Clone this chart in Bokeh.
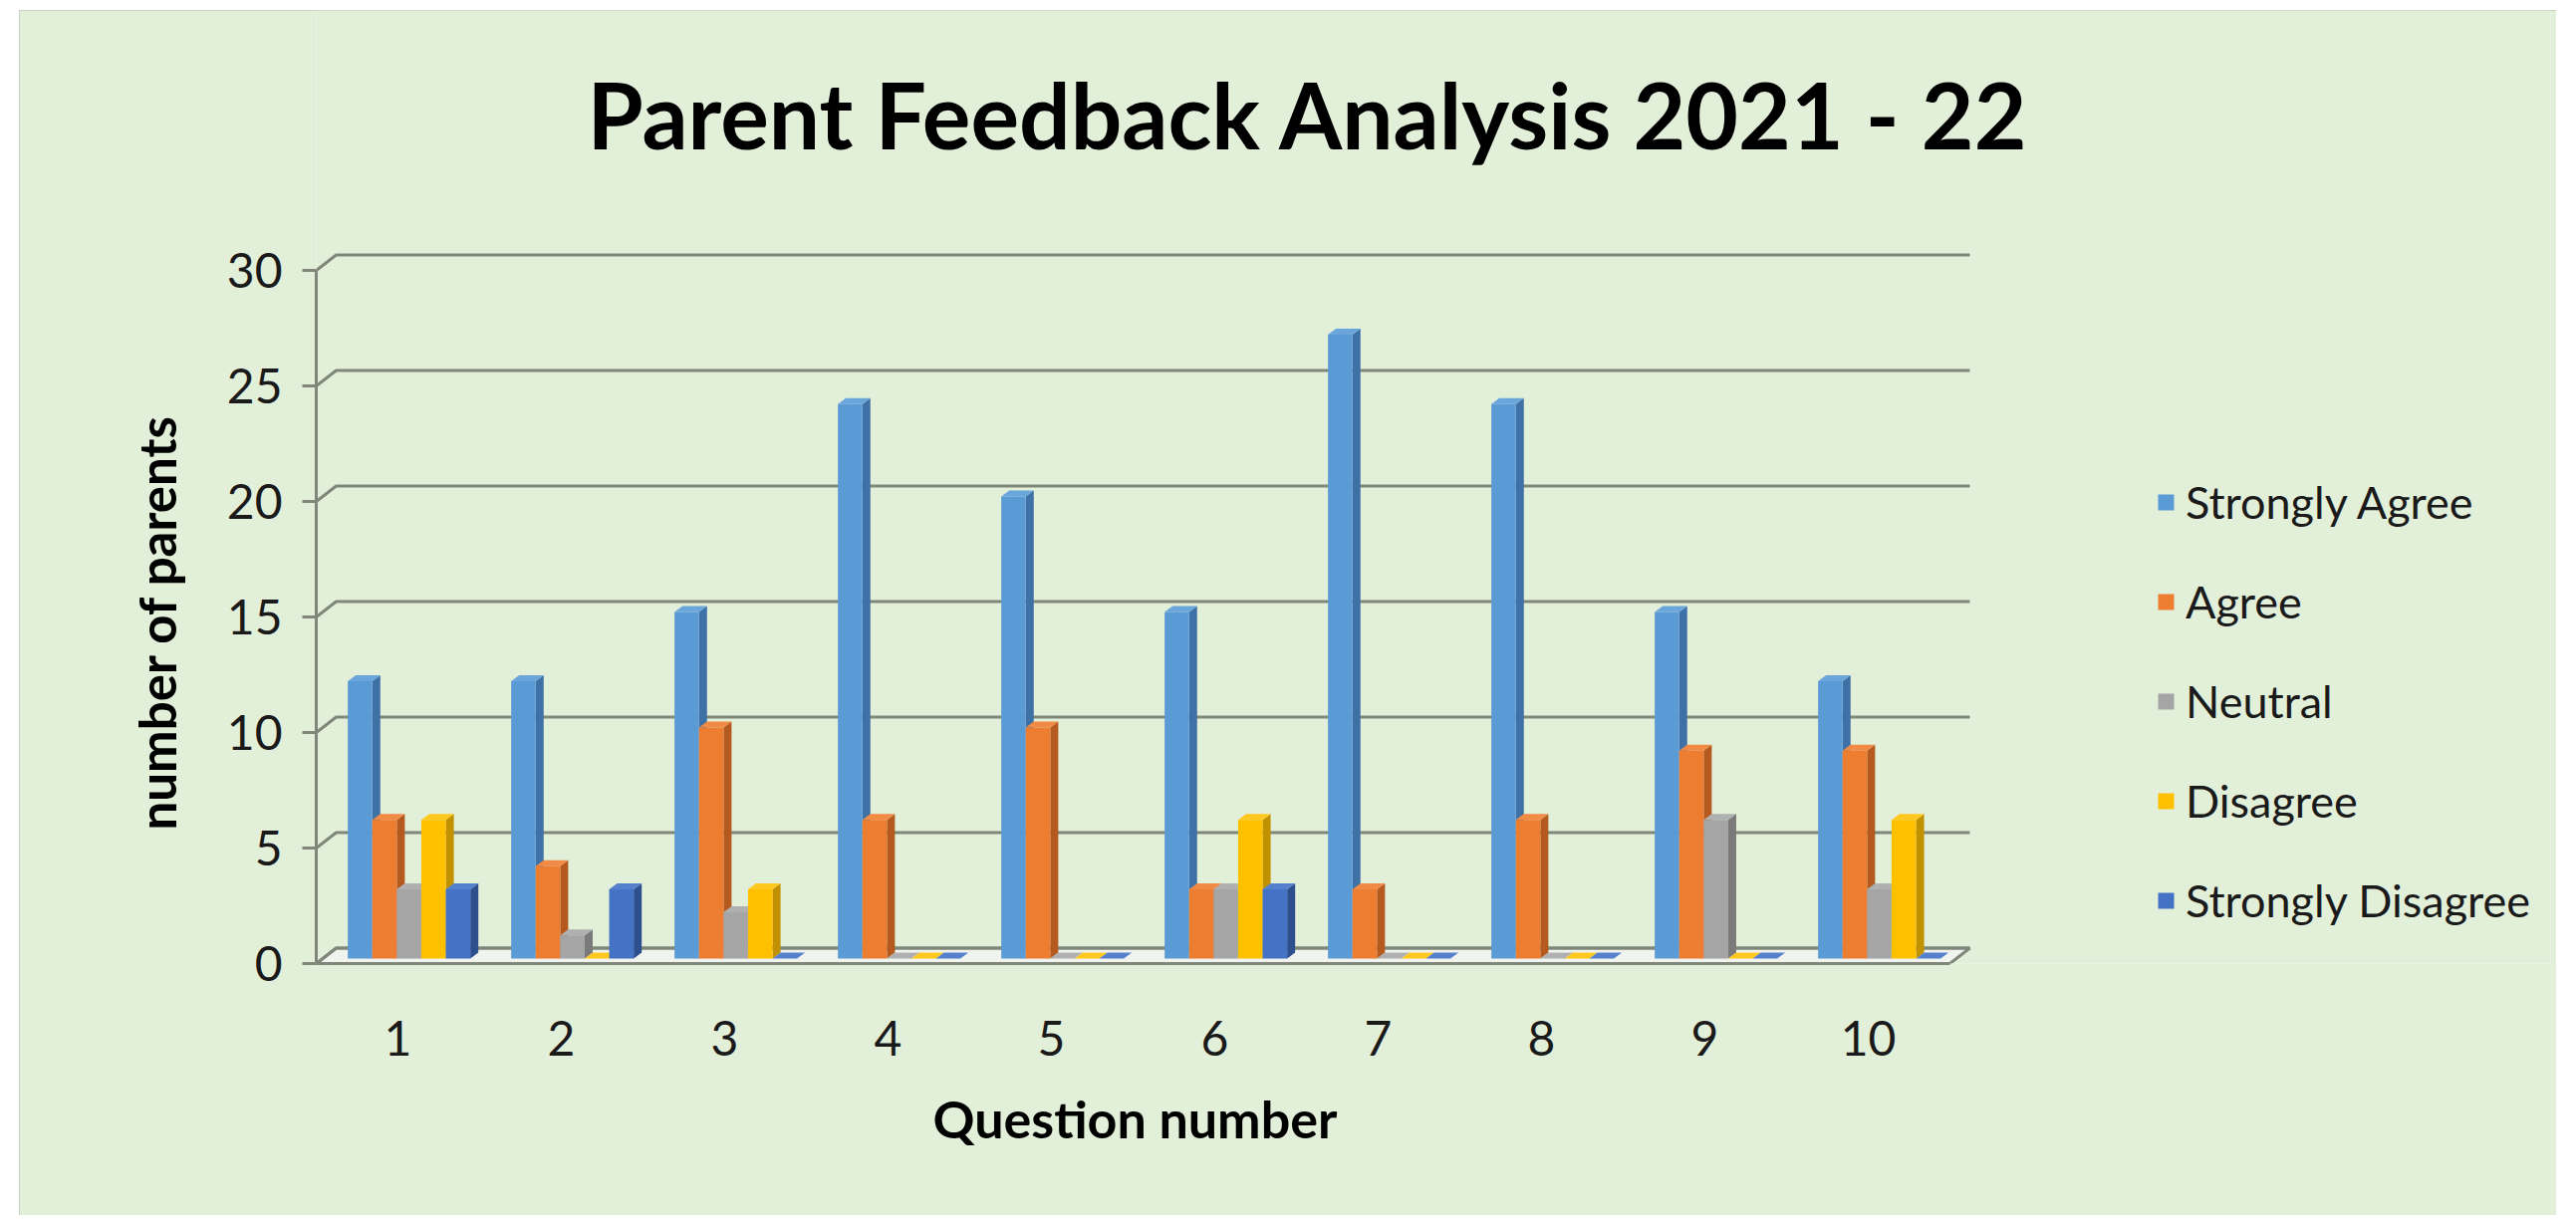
from bokeh.plotting import figure
from bokeh.models import FixedTicker, Legend, LegendItem, Range1d, Title, Label
from bokeh.embed import file_html
from bokeh.resources import INLINE

# ---- data ----
questions = [1, 2, 3, 4, 5, 6, 7, 8, 9, 10]
series_names = ["Strongly Agree", "Agree", "Neutral", "Disagree", "Strongly Disagree"]
strongly_agree = [12, 12, 15, 24, 20, 15, 27, 24, 15, 12]
agree = [6, 4, 10, 6, 10, 3, 3, 6, 9, 9]
neutral = [3, 1, 2, 0, 0, 3, 0, 0, 6, 3]
disagree = [6, 0, 3, 0, 0, 6, 0, 0, 0, 6]
strongly_disagree = [3, 3, 0, 0, 0, 3, 0, 0, 0, 0]
y_ticks = [0, 5, 10, 15, 20, 25, 30]

series_values = [strongly_agree, agree, neutral, disagree, strongly_disagree]
front_colors = ["#5B9BD5", "#ED7D31", "#A5A5A5", "#FFC000", "#4472C4"]
side_colors = ["#3E72A6", "#B45A1E", "#7A7A7A", "#C29100", "#2D4F8E"]
top_colors = ["#6AA6DC", "#F08A45", "#B0B0B0", "#FFC81F", "#5580CC"]

BG = "#E2EFD9"
GRID = "#80877A"

# 3-D pseudo-depth parameters (data units)
DX, DY = 0.122, 0.668          # wall depth
OX, OY = 0.041, 0.215          # bar front offset into depth
BDX, BDY = 0.049, 0.26         # bar depth
W = 0.150                      # bar width
START = -0.348                 # cluster start relative to category centre

p = figure(width=2547, height=1210, output_backend="svg", toolbar_location=None,
           x_range=Range1d(0.5, 14.177), y_range=Range1d(0, 41.25),
           min_border_left=298, min_border_right=6, min_border_top=0,
           min_border_bottom=253, margin=(10, 0, 0, 19))
p.styles = {"outline": "2px solid #C3C8C0", "outline-offset": "-2px"}
p.background_fill_color = BG
p.border_fill_color = BG
p.outline_line_color = None
p.xgrid.visible = False
p.ygrid.visible = False

# floor
p.patch([0.5, 10.5, 10.5 + DX, 0.5 + DX], [0, 0, DY, DY],
        fill_color="#F1F4EE", line_color=GRID, line_width=3)

# back-wall gridlines
p.multi_line([[0.5, 0.5 + DX, 10.5 + DX] for t in y_ticks],
             [[t, t + DY, t + DY] for t in y_ticks],
             line_color=GRID, line_width=3)

legend_items = []
for s, vals in enumerate(series_values):
    lefts = [q + START + OX + s * W for q in questions]
    rights = [l + W for l in lefts]
    bottoms = [OY for _ in vals]
    tops = [v + OY for v in vals]
    side_xs = [[r, r + BDX, r + BDX, r] for r in rights]
    side_ys = [[b, b + BDY, t + BDY, t] for b, t in zip(bottoms, tops)]
    top_xs = [[l, l + BDX, r + BDX, r] for l, r in zip(lefts, rights)]
    top_ys = [[t, t + BDY, t + BDY, t] for t in tops]
    p.patches(side_xs, side_ys, fill_color=side_colors[s], line_color=None)
    p.patches(top_xs, top_ys, fill_color=top_colors[s], line_color=None)
    fr = p.quad(left=lefts, right=rights, bottom=bottoms, top=tops,
                fill_color=front_colors[s], line_color=None)
    legend_items.append(LegendItem(label=series_names[s], renderers=[fr]))

# axes
yax = p.yaxis[0]
yax.ticker = FixedTicker(ticks=y_ticks)
yax.bounds = (0, 30)
yax.axis_line_color = GRID
yax.axis_line_width = 3
yax.major_tick_line_color = GRID
yax.major_tick_line_width = 3
yax.major_tick_out = 14
yax.major_tick_in = 0
yax.minor_tick_out = 0
yax.minor_tick_in = 0
yax.major_label_text_font = "Lato"
yax.major_label_text_font_size = "48px"
yax.major_label_text_color = "#1A1A1A"
yax.major_label_standoff = 20

xax = p.xaxis[0]
xax.ticker = FixedTicker(ticks=questions)
xax.bounds = (0.5, 10.5)
xax.axis_line_color = GRID
xax.axis_line_width = 3
xax.major_tick_out = 0
xax.major_tick_in = 0
xax.minor_tick_out = 0
xax.minor_tick_in = 0
xax.major_label_text_font = "Lato"
xax.major_label_text_font_size = "48px"
xax.major_label_text_color = "#1A1A1A"
xax.major_label_standoff = 57

# axis titles as side titles (positioned by offset)
ytitle = Title(text="number of parents", text_font="Lato", text_font_style="bold",
               text_font_size="51px", text_color="#000000", align="left",
               offset=134, standoff=74)
p.add_layout(ytitle, "left")
xtitle = Title(text="Question number", text_font="Lato", text_font_style="bold",
               text_font_size="52px", text_color="#000000", align="left",
               offset=619, standoff=54)
p.add_layout(xtitle, "below")

# chart title (inside the frame, above the plot area)
title = Label(x=6.573, y=36.75, text="Parent Feedback Analysis 2021 - 22",
              text_font="Lato", text_font_style="bold", text_font_size="91px",
              text_color="#000000", text_align="center", text_baseline="middle")
p.add_layout(title)

legend = Legend(items=legend_items, location=(1847, 33), orientation="vertical",
                glyph_width=20, glyph_height=20, label_standoff=10,
                label_text_font="Lato", label_text_font_size="45px",
                label_text_color="#1A1A1A", label_height=60, spacing=40,
                padding=0, margin=0, border_line_color=None,
                background_fill_alpha=0)
p.add_layout(legend, "center")

open("out.html", "w").write(file_html(p, INLINE))
